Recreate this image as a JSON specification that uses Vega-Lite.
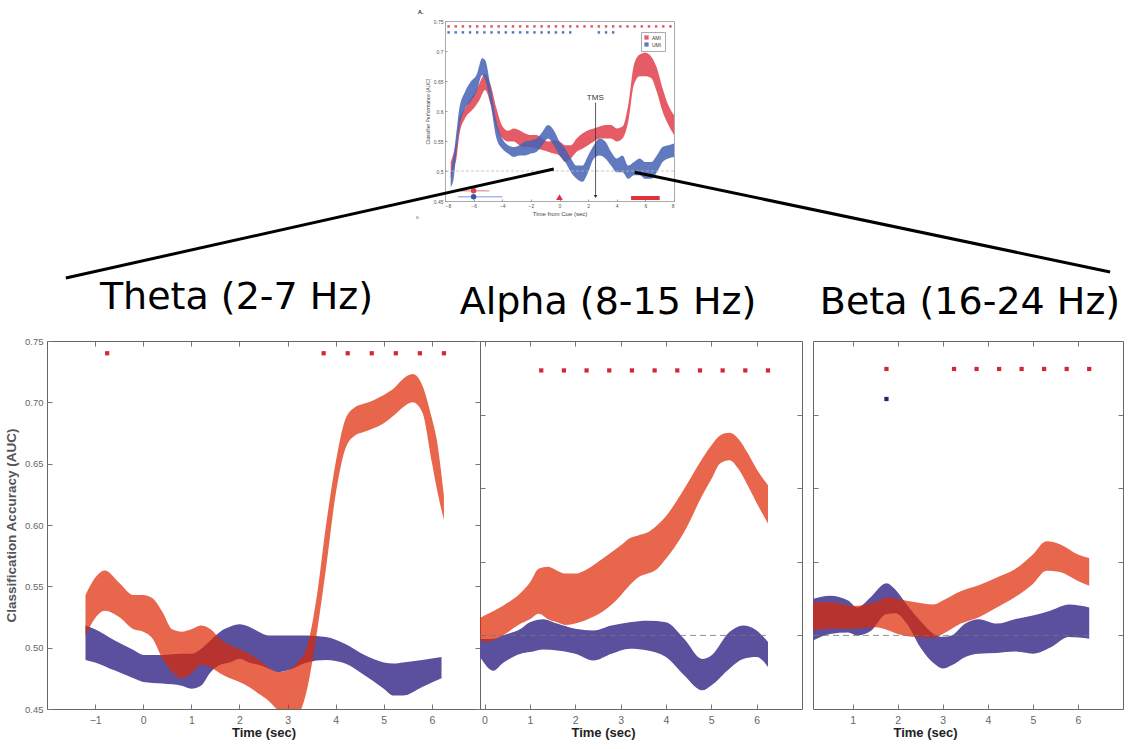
{
"$schema": "https://vega.github.io/schema/vega-lite/v6.json",
"background": "white",
"padding": {"left": 4, "top": 8, "right": 0, "bottom": 0},
"bounds": "flush",
"spacing": 320,
"config": {"view": {"stroke": "#666"}, "font": "Liberation Sans", "axis": {"grid": false, "labelOverlap": false}},
"datasets": {
"inset": [
{"t":-7.6,"lo":0.487,"hi":0.515,"g":"AMI"},{"t":-7.4,"lo":0.505,"hi":0.53,"g":"AMI"},{"t":-7.2,"lo":0.521,"hi":0.549,"g":"AMI"},{"t":-7.0,"lo":0.56,"hi":0.588,"g":"AMI"},{"t":-6.6,"lo":0.588,"hi":0.604,"g":"AMI"},{"t":-6.2,"lo":0.599,"hi":0.621,"g":"AMI"},{"t":-6.0,"lo":0.604,"hi":0.627,"g":"AMI"},{"t":-5.6,"lo":0.618,"hi":0.646,"g":"AMI"},{"t":-5.2,"lo":0.635,"hi":0.662,"g":"AMI"},{"t":-4.8,"lo":0.61,"hi":0.643,"g":"AMI"},{"t":-4.4,"lo":0.571,"hi":0.604,"g":"AMI"},{"t":-4.0,"lo":0.555,"hi":0.575,"g":"AMI"},{"t":-3.6,"lo":0.549,"hi":0.567,"g":"AMI"},{"t":-3.2,"lo":0.549,"hi":0.571,"g":"AMI"},{"t":-2.8,"lo":0.543,"hi":0.568,"g":"AMI"},{"t":-2.4,"lo":0.54,"hi":0.5626,"g":"AMI"},{"t":-2.0,"lo":0.54,"hi":0.56,"g":"AMI"},{"t":-1.6,"lo":0.537,"hi":0.56,"g":"AMI"},{"t":-1.2,"lo":0.535,"hi":0.554,"g":"AMI"},{"t":-0.8,"lo":0.532,"hi":0.549,"g":"AMI"},{"t":-0.4,"lo":0.529,"hi":0.551,"g":"AMI"},{"t":0.0,"lo":0.526,"hi":0.549,"g":"AMI"},{"t":0.4,"lo":0.515,"hi":0.543,"g":"AMI"},{"t":0.8,"lo":0.521,"hi":0.543,"g":"AMI"},{"t":1.2,"lo":0.532,"hi":0.554,"g":"AMI"},{"t":1.6,"lo":0.537,"hi":0.5626,"g":"AMI"},{"t":2.0,"lo":0.543,"hi":0.568,"g":"AMI"},{"t":2.4,"lo":0.549,"hi":0.571,"g":"AMI"},{"t":2.8,"lo":0.554,"hi":0.574,"g":"AMI"},{"t":3.2,"lo":0.554,"hi":0.5765,"g":"AMI"},{"t":3.6,"lo":0.554,"hi":0.5765,"g":"AMI"},{"t":4.0,"lo":0.549,"hi":0.571,"g":"AMI"},{"t":4.4,"lo":0.554,"hi":0.574,"g":"AMI"},{"t":4.8,"lo":0.582,"hi":0.61,"g":"AMI"},{"t":5.2,"lo":0.644,"hi":0.677,"g":"AMI"},{"t":5.6,"lo":0.658,"hi":0.694,"g":"AMI"},{"t":6.0,"lo":0.658,"hi":0.697,"g":"AMI"},{"t":6.4,"lo":0.655,"hi":0.691,"g":"AMI"},{"t":6.8,"lo":0.632,"hi":0.672,"g":"AMI"},{"t":7.2,"lo":0.599,"hi":0.638,"g":"AMI"},{"t":7.6,"lo":0.577,"hi":0.61,"g":"AMI"},{"t":8.0,"lo":0.56,"hi":0.593,"g":"AMI"},
{"t":-7.6,"lo":0.473,"hi":0.498,"g":"UMI"},{"t":-7.4,"lo":0.487,"hi":0.526,"g":"UMI"},{"t":-7.2,"lo":0.532,"hi":0.565,"g":"UMI"},{"t":-7.0,"lo":0.571,"hi":0.604,"g":"UMI"},{"t":-6.6,"lo":0.604,"hi":0.632,"g":"UMI"},{"t":-6.2,"lo":0.616,"hi":0.649,"g":"UMI"},{"t":-5.8,"lo":0.632,"hi":0.66,"g":"UMI"},{"t":-5.4,"lo":0.66,"hi":0.688,"g":"UMI"},{"t":-5.2,"lo":0.652,"hi":0.685,"g":"UMI"},{"t":-4.8,"lo":0.61,"hi":0.638,"g":"UMI"},{"t":-4.4,"lo":0.554,"hi":0.582,"g":"UMI"},{"t":-4.0,"lo":0.537,"hi":0.554,"g":"UMI"},{"t":-3.6,"lo":0.529,"hi":0.543,"g":"UMI"},{"t":-3.2,"lo":0.5235,"hi":0.54,"g":"UMI"},{"t":-2.8,"lo":0.526,"hi":0.543,"g":"UMI"},{"t":-2.4,"lo":0.526,"hi":0.549,"g":"UMI"},{"t":-2.0,"lo":0.529,"hi":0.551,"g":"UMI"},{"t":-1.6,"lo":0.532,"hi":0.554,"g":"UMI"},{"t":-1.2,"lo":0.543,"hi":0.565,"g":"UMI"},{"t":-0.8,"lo":0.554,"hi":0.5765,"g":"UMI"},{"t":-0.4,"lo":0.543,"hi":0.568,"g":"UMI"},{"t":0.0,"lo":0.526,"hi":0.549,"g":"UMI"},{"t":0.4,"lo":0.515,"hi":0.537,"g":"UMI"},{"t":0.8,"lo":0.498,"hi":0.521,"g":"UMI"},{"t":1.2,"lo":0.487,"hi":0.509,"g":"UMI"},{"t":1.6,"lo":0.482,"hi":0.509,"g":"UMI"},{"t":2.0,"lo":0.498,"hi":0.526,"g":"UMI"},{"t":2.4,"lo":0.521,"hi":0.543,"g":"UMI"},{"t":2.8,"lo":0.526,"hi":0.554,"g":"UMI"},{"t":3.2,"lo":0.521,"hi":0.549,"g":"UMI"},{"t":3.6,"lo":0.509,"hi":0.532,"g":"UMI"},{"t":4.0,"lo":0.498,"hi":0.521,"g":"UMI"},{"t":4.4,"lo":0.498,"hi":0.526,"g":"UMI"},{"t":4.8,"lo":0.487,"hi":0.509,"g":"UMI"},{"t":5.2,"lo":0.493,"hi":0.515,"g":"UMI"},{"t":5.6,"lo":0.493,"hi":0.521,"g":"UMI"},{"t":6.0,"lo":0.487,"hi":0.515,"g":"UMI"},{"t":6.4,"lo":0.487,"hi":0.515,"g":"UMI"},{"t":6.8,"lo":0.498,"hi":0.526,"g":"UMI"},{"t":7.2,"lo":0.515,"hi":0.54,"g":"UMI"},{"t":7.6,"lo":0.521,"hi":0.543,"g":"UMI"},{"t":8.0,"lo":0.5235,"hi":0.546,"g":"UMI"}
],
"insetDots": [
{"t":-7.75,"y":0.741,"g":"AMI"},{"t":-7.25,"y":0.741,"g":"AMI"},{"t":-6.75,"y":0.741,"g":"AMI"},{"t":-6.25,"y":0.741,"g":"AMI"},{"t":-5.75,"y":0.741,"g":"AMI"},{"t":-5.25,"y":0.741,"g":"AMI"},{"t":-4.75,"y":0.741,"g":"AMI"},{"t":-4.25,"y":0.741,"g":"AMI"},{"t":-3.75,"y":0.741,"g":"AMI"},{"t":-3.25,"y":0.741,"g":"AMI"},{"t":-2.75,"y":0.741,"g":"AMI"},{"t":-2.25,"y":0.741,"g":"AMI"},{"t":-1.75,"y":0.741,"g":"AMI"},{"t":-1.25,"y":0.741,"g":"AMI"},{"t":-0.75,"y":0.741,"g":"AMI"},{"t":-0.25,"y":0.741,"g":"AMI"},{"t":0.25,"y":0.741,"g":"AMI"},{"t":0.75,"y":0.741,"g":"AMI"},{"t":1.25,"y":0.741,"g":"AMI"},{"t":1.75,"y":0.741,"g":"AMI"},{"t":2.25,"y":0.741,"g":"AMI"},{"t":2.75,"y":0.741,"g":"AMI"},{"t":3.25,"y":0.741,"g":"AMI"},{"t":3.75,"y":0.741,"g":"AMI"},{"t":4.25,"y":0.741,"g":"AMI"},{"t":4.75,"y":0.741,"g":"AMI"},{"t":5.25,"y":0.741,"g":"AMI"},{"t":5.75,"y":0.741,"g":"AMI"},{"t":6.25,"y":0.741,"g":"AMI"},{"t":6.75,"y":0.741,"g":"AMI"},{"t":7.25,"y":0.741,"g":"AMI"},{"t":7.75,"y":0.741,"g":"AMI"},
{"t":-7.75,"y":0.731,"g":"UMI"},{"t":-7.25,"y":0.731,"g":"UMI"},{"t":-6.75,"y":0.731,"g":"UMI"},{"t":-6.25,"y":0.731,"g":"UMI"},{"t":-5.75,"y":0.731,"g":"UMI"},{"t":-5.25,"y":0.731,"g":"UMI"},{"t":-4.75,"y":0.731,"g":"UMI"},{"t":-4.25,"y":0.731,"g":"UMI"},{"t":-3.75,"y":0.731,"g":"UMI"},{"t":-3.25,"y":0.731,"g":"UMI"},{"t":-2.75,"y":0.731,"g":"UMI"},{"t":-2.25,"y":0.731,"g":"UMI"},{"t":-1.75,"y":0.731,"g":"UMI"},{"t":-1.25,"y":0.731,"g":"UMI"},{"t":-0.75,"y":0.731,"g":"UMI"},{"t":-0.25,"y":0.731,"g":"UMI"},{"t":0.25,"y":0.731,"g":"UMI"},{"t":0.75,"y":0.731,"g":"UMI"},{"t":2.75,"y":0.731,"g":"UMI"},{"t":3.25,"y":0.731,"g":"UMI"},{"t":3.75,"y":0.731,"g":"UMI"}
],
"theta": [
{"t":-1.2,"lo":0.51,"hi":0.543,"g":"AMI"},{"t":-1.0,"lo":0.524,"hi":0.557,"g":"AMI"},{"t":-0.8,"lo":0.53,"hi":0.563,"g":"AMI"},{"t":-0.5,"lo":0.525,"hi":0.553,"g":"AMI"},{"t":-0.2,"lo":0.515,"hi":0.543,"g":"AMI"},{"t":0.0,"lo":0.513,"hi":0.543,"g":"AMI"},{"t":0.2,"lo":0.507,"hi":0.54,"g":"AMI"},{"t":0.4,"lo":0.491,"hi":0.529,"g":"AMI"},{"t":0.6,"lo":0.48,"hi":0.515,"g":"AMI"},{"t":0.8,"lo":0.475,"hi":0.513,"g":"AMI"},{"t":1.0,"lo":0.479,"hi":0.515,"g":"AMI"},{"t":1.2,"lo":0.486,"hi":0.518,"g":"AMI"},{"t":1.4,"lo":0.484,"hi":0.515,"g":"AMI"},{"t":1.6,"lo":0.479,"hi":0.507,"g":"AMI"},{"t":1.8,"lo":0.475,"hi":0.502,"g":"AMI"},{"t":2.0,"lo":0.472,"hi":0.499,"g":"AMI"},{"t":2.2,"lo":0.468,"hi":0.495,"g":"AMI"},{"t":2.4,"lo":0.4625,"hi":0.49,"g":"AMI"},{"t":2.6,"lo":0.457,"hi":0.484,"g":"AMI"},{"t":2.8,"lo":0.449,"hi":0.48,"g":"AMI"},{"t":3.0,"lo":0.443,"hi":0.4815,"g":"AMI"},{"t":3.2,"lo":0.445,"hi":0.488,"g":"AMI"},{"t":3.4,"lo":0.465,"hi":0.5,"g":"AMI"},{"t":3.6,"lo":0.51,"hi":0.54,"g":"AMI"},{"t":3.8,"lo":0.565,"hi":0.6,"g":"AMI"},{"t":4.0,"lo":0.625,"hi":0.651,"g":"AMI"},{"t":4.2,"lo":0.662,"hi":0.686,"g":"AMI"},{"t":4.4,"lo":0.673,"hi":0.696,"g":"AMI"},{"t":4.6,"lo":0.676,"hi":0.699,"g":"AMI"},{"t":4.8,"lo":0.679,"hi":0.702,"g":"AMI"},{"t":5.0,"lo":0.683,"hi":0.706,"g":"AMI"},{"t":5.2,"lo":0.689,"hi":0.711,"g":"AMI"},{"t":5.4,"lo":0.696,"hi":0.719,"g":"AMI"},{"t":5.6,"lo":0.7,"hi":0.723,"g":"AMI"},{"t":5.8,"lo":0.692,"hi":0.714,"g":"AMI"},{"t":6.0,"lo":0.651,"hi":0.687,"g":"AMI"},{"t":6.1,"lo":0.63,"hi":0.67,"g":"AMI"},{"t":6.25,"lo":0.604,"hi":0.624,"g":"AMI"},
{"t":-1.2,"lo":0.49,"hi":0.518,"g":"UMI"},{"t":-1.0,"lo":0.488,"hi":0.515,"g":"UMI"},{"t":-0.6,"lo":0.4815,"hi":0.506,"g":"UMI"},{"t":-0.2,"lo":0.475,"hi":0.498,"g":"UMI"},{"t":0.0,"lo":0.472,"hi":0.494,"g":"UMI"},{"t":0.4,"lo":0.4707,"hi":0.494,"g":"UMI"},{"t":0.8,"lo":0.469,"hi":0.495,"g":"UMI"},{"t":1.0,"lo":0.4666,"hi":0.495,"g":"UMI"},{"t":1.2,"lo":0.469,"hi":0.499,"g":"UMI"},{"t":1.4,"lo":0.48,"hi":0.506,"g":"UMI"},{"t":1.6,"lo":0.486,"hi":0.513,"g":"UMI"},{"t":1.8,"lo":0.488,"hi":0.517,"g":"UMI"},{"t":2.0,"lo":0.491,"hi":0.519,"g":"UMI"},{"t":2.2,"lo":0.488,"hi":0.517,"g":"UMI"},{"t":2.4,"lo":0.486,"hi":0.513,"g":"UMI"},{"t":2.6,"lo":0.483,"hi":0.51,"g":"UMI"},{"t":2.8,"lo":0.48,"hi":0.51,"g":"UMI"},{"t":3.0,"lo":0.4815,"hi":0.51,"g":"UMI"},{"t":3.4,"lo":0.488,"hi":0.51,"g":"UMI"},{"t":3.8,"lo":0.49,"hi":0.5087,"g":"UMI"},{"t":4.2,"lo":0.487,"hi":0.503,"g":"UMI"},{"t":4.6,"lo":0.4775,"hi":0.494,"g":"UMI"},{"t":5.0,"lo":0.4666,"hi":0.488,"g":"UMI"},{"t":5.2,"lo":0.461,"hi":0.487,"g":"UMI"},{"t":5.4,"lo":0.461,"hi":0.488,"g":"UMI"},{"t":5.8,"lo":0.468,"hi":0.49,"g":"UMI"},{"t":6.2,"lo":0.475,"hi":0.4924,"g":"UMI"}
],
"alpha": [
{"t":-0.1,"lo":0.497,"hi":0.512,"g":"AMI"},{"t":0.0,"lo":0.4955,"hi":0.5136,"g":"AMI"},{"t":0.4,"lo":0.5,"hi":0.52,"g":"AMI"},{"t":0.8,"lo":0.508,"hi":0.529,"g":"AMI"},{"t":1.0,"lo":0.511,"hi":0.536,"g":"AMI"},{"t":1.2,"lo":0.5147,"hi":0.5455,"g":"AMI"},{"t":1.4,"lo":0.511,"hi":0.5466,"g":"AMI"},{"t":1.6,"lo":0.509,"hi":0.544,"g":"AMI"},{"t":1.8,"lo":0.507,"hi":0.542,"g":"AMI"},{"t":2.0,"lo":0.508,"hi":0.542,"g":"AMI"},{"t":2.2,"lo":0.51,"hi":0.544,"g":"AMI"},{"t":2.6,"lo":0.516,"hi":0.552,"g":"AMI"},{"t":3.0,"lo":0.527,"hi":0.561,"g":"AMI"},{"t":3.2,"lo":0.534,"hi":0.566,"g":"AMI"},{"t":3.4,"lo":0.5396,"hi":0.568,"g":"AMI"},{"t":3.6,"lo":0.542,"hi":0.57,"g":"AMI"},{"t":3.8,"lo":0.545,"hi":0.5747,"g":"AMI"},{"t":4.0,"lo":0.552,"hi":0.581,"g":"AMI"},{"t":4.4,"lo":0.57,"hi":0.5995,"g":"AMI"},{"t":4.8,"lo":0.595,"hi":0.62,"g":"AMI"},{"t":5.0,"lo":0.606,"hi":0.629,"g":"AMI"},{"t":5.2,"lo":0.617,"hi":0.636,"g":"AMI"},{"t":5.4,"lo":0.619,"hi":0.6376,"g":"AMI"},{"t":5.6,"lo":0.613,"hi":0.6335,"g":"AMI"},{"t":5.8,"lo":0.602,"hi":0.624,"g":"AMI"},{"t":6.0,"lo":0.59,"hi":0.613,"g":"AMI"},{"t":6.25,"lo":0.576,"hi":0.602,"g":"AMI"},
{"t":-0.1,"lo":0.4853,"hi":0.4975,"g":"UMI"},{"t":0.2,"lo":0.476,"hi":0.4977,"g":"UMI"},{"t":0.4,"lo":0.481,"hi":0.5,"g":"UMI"},{"t":0.8,"lo":0.4876,"hi":0.5045,"g":"UMI"},{"t":1.0,"lo":0.4887,"hi":0.509,"g":"UMI"},{"t":1.3,"lo":0.4905,"hi":0.511,"g":"UMI"},{"t":1.6,"lo":0.4898,"hi":0.508,"g":"UMI"},{"t":2.0,"lo":0.4876,"hi":0.5045,"g":"UMI"},{"t":2.4,"lo":0.483,"hi":0.5034,"g":"UMI"},{"t":2.8,"lo":0.4876,"hi":0.5068,"g":"UMI"},{"t":3.2,"lo":0.491,"hi":0.509,"g":"UMI"},{"t":3.6,"lo":0.4898,"hi":0.51,"g":"UMI"},{"t":4.0,"lo":0.4853,"hi":0.509,"g":"UMI"},{"t":4.4,"lo":0.473,"hi":0.4977,"g":"UMI"},{"t":4.8,"lo":0.4627,"hi":0.484,"g":"UMI"},{"t":5.0,"lo":0.466,"hi":0.4864,"g":"UMI"},{"t":5.4,"lo":0.4774,"hi":0.5023,"g":"UMI"},{"t":5.7,"lo":0.484,"hi":0.5068,"g":"UMI"},{"t":6.0,"lo":0.4853,"hi":0.5034,"g":"UMI"},{"t":6.25,"lo":0.4785,"hi":0.4955,"g":"UMI"}
],
"beta": [
{"t":0.12,"lo":0.5034,"hi":0.5225,"g":"AMI"},{"t":0.5,"lo":0.5045,"hi":0.5225,"g":"AMI"},{"t":1.0,"lo":0.5045,"hi":0.52,"g":"AMI"},{"t":1.5,"lo":0.5056,"hi":0.5225,"g":"AMI"},{"t":1.8,"lo":0.5034,"hi":0.526,"g":"AMI"},{"t":2.0,"lo":0.501,"hi":0.5248,"g":"AMI"},{"t":2.4,"lo":0.4989,"hi":0.5225,"g":"AMI"},{"t":2.8,"lo":0.4984,"hi":0.521,"g":"AMI"},{"t":3.0,"lo":0.501,"hi":0.5237,"g":"AMI"},{"t":3.4,"lo":0.508,"hi":0.53,"g":"AMI"},{"t":3.8,"lo":0.5124,"hi":0.534,"g":"AMI"},{"t":4.2,"lo":0.519,"hi":0.5394,"g":"AMI"},{"t":4.6,"lo":0.526,"hi":0.545,"g":"AMI"},{"t":5.0,"lo":0.535,"hi":0.555,"g":"AMI"},{"t":5.3,"lo":0.544,"hi":0.564,"g":"AMI"},{"t":5.6,"lo":0.543,"hi":0.562,"g":"AMI"},{"t":6.0,"lo":0.537,"hi":0.555,"g":"AMI"},{"t":6.25,"lo":0.5338,"hi":0.5525,"g":"AMI"},
{"t":0.12,"lo":0.4966,"hi":0.5248,"g":"UMI"},{"t":0.5,"lo":0.501,"hi":0.527,"g":"UMI"},{"t":0.9,"lo":0.502,"hi":0.5237,"g":"UMI"},{"t":1.1,"lo":0.5,"hi":0.519,"g":"UMI"},{"t":1.4,"lo":0.503,"hi":0.526,"g":"UMI"},{"t":1.75,"lo":0.5146,"hi":0.5354,"g":"UMI"},{"t":1.95,"lo":0.515,"hi":0.531,"g":"UMI"},{"t":2.2,"lo":0.508,"hi":0.521,"g":"UMI"},{"t":2.5,"lo":0.492,"hi":0.51,"g":"UMI"},{"t":2.8,"lo":0.481,"hi":0.501,"g":"UMI"},{"t":3.0,"lo":0.4775,"hi":0.499,"g":"UMI"},{"t":3.2,"lo":0.4797,"hi":0.5,"g":"UMI"},{"t":3.5,"lo":0.4854,"hi":0.508,"g":"UMI"},{"t":3.8,"lo":0.4876,"hi":0.511,"g":"UMI"},{"t":4.2,"lo":0.488,"hi":0.508,"g":"UMI"},{"t":4.6,"lo":0.489,"hi":0.511,"g":"UMI"},{"t":5.0,"lo":0.4876,"hi":0.5135,"g":"UMI"},{"t":5.4,"lo":0.492,"hi":0.517,"g":"UMI"},{"t":5.8,"lo":0.4989,"hi":0.521,"g":"UMI"},{"t":6.25,"lo":0.4977,"hi":0.519,"g":"UMI"}
],
"thetaSig": [{"t":-0.75,"y":0.74},{"t":3.75,"y":0.74},{"t":4.25,"y":0.74},{"t":4.75,"y":0.74},{"t":5.25,"y":0.74},{"t":5.75,"y":0.74},{"t":6.25,"y":0.74}],
"alphaSig": [{"t":1.25,"y":0.68},{"t":1.75,"y":0.68},{"t":2.25,"y":0.68},{"t":2.75,"y":0.68},{"t":3.25,"y":0.68},{"t":3.75,"y":0.68},{"t":4.25,"y":0.68},{"t":4.75,"y":0.68},{"t":5.25,"y":0.68},{"t":5.75,"y":0.68},{"t":6.25,"y":0.68}],
"betaSig": [{"t":1.75,"y":0.681},{"t":3.25,"y":0.681},{"t":3.75,"y":0.681},{"t":4.25,"y":0.681},{"t":4.75,"y":0.681},{"t":5.25,"y":0.681},{"t":5.75,"y":0.681},{"t":6.25,"y":0.681}],
"betaSigU": [{"t":1.75,"y":0.6606}]
},
"vconcat": [
{"hconcat": [
 {"width": 398, "height": 180, "view": {"stroke": null}, "data": {"values": [{"a": 1}]}, "mark": {"type": "point", "opacity": 0}, "encoding": {}},
 {"width": 229, "height": 180, "view": {"stroke": "#aaa"},
  "resolve": {"axis": {"x": "independent", "y": "independent"}},
  "layer": [
   {"data": {"name": "inset"}, "mark": {"type": "area", "interpolate": "monotone", "opacity": 0.85},
    "encoding": {
     "x": {"field": "t", "type": "quantitative", "scale": {"domain": [-8, 8], "nice": false, "zero": false},
       "axis": {"values": [-8,-6,-4,-2,0,2,4,6,8], "labelOverlap": false, "tickSize": -2, "tickColor": "#999", "labelPadding": 4, "labelFontSize": 5, "labelColor": "#555", "domain": false, "title": "Time from Cue (sec)", "titleFontSize": 6, "titleFontWeight": "normal", "titleColor": "#444", "titlePadding": 2}},
     "y": {"field": "lo", "type": "quantitative", "scale": {"domain": [0.45, 0.75], "nice": false, "zero": false},
       "axis": {"values": [0.45,0.5,0.55,0.6,0.65,0.7,0.75], "labelOverlap": false, "format": "~g", "tickSize": -2, "tickColor": "#999", "labelPadding": 4, "labelFontSize": 5, "labelColor": "#555", "domain": false, "title": "Classifier Performance (AUC)", "titleFontSize": 5, "titleFontWeight": "normal", "titleColor": "#444", "titlePadding": 3}},
     "y2": {"field": "hi"},
     "color": {"field": "g", "type": "nominal", "scale": {"domain": ["AMI", "UMI"], "range": ["#E0404C", "#4462B4"]},
       "legend": {"orient": "none", "legendX": 594, "legendY": 11, "title": null, "labelFontSize": 5, "labelColor": "#333", "symbolType": "square", "symbolSize": 18, "symbolStrokeWidth": 0, "padding": 3, "strokeColor": "#aaa", "fillColor": "white", "rowPadding": 1, "labelOffset": 3}}
    }},
   {"data": {"values": [{"y": 0.5}]}, "mark": {"type": "rule", "color": "#bbb", "strokeDash": [3, 2], "strokeWidth": 0.8},
    "encoding": {"y": {"field": "y", "type": "quantitative", "scale": {"domain": [0.45, 0.75], "nice": false, "zero": false}, "axis": null}}},
   {"data": {"name": "insetDots"}, "mark": {"type": "square", "size": 6, "opacity": 0.9},
    "encoding": {
     "x": {"field": "t", "type": "quantitative", "scale": {"domain": [-8, 8], "nice": false, "zero": false}, "axis": null},
     "y": {"field": "y", "type": "quantitative", "scale": {"domain": [0.45, 0.75], "nice": false, "zero": false}, "axis": null},
     "color": {"field": "g", "type": "nominal", "scale": {"domain": ["AMI", "UMI"], "range": ["#E0404C", "#4462B4"]}}
    }},
   {"data": {"values": [{"t0": -6.97, "t1": -4.9, "y": 0.467}]}, "mark": {"type": "rule", "color": "#F2A0A8", "strokeWidth": 1.5},
    "encoding": {"x": {"field": "t0", "type": "quantitative", "scale": {"domain": [-8, 8], "nice": false, "zero": false}, "axis": null}, "x2": {"field": "t1"}, "y": {"field": "y", "type": "quantitative", "scale": {"domain": [0.45, 0.75], "nice": false, "zero": false}, "axis": null}}},
   {"data": {"values": [{"t0": -7.1, "t1": -4.0, "y": 0.457}]}, "mark": {"type": "rule", "color": "#A8B8E8", "strokeWidth": 1.5},
    "encoding": {"x": {"field": "t0", "type": "quantitative", "scale": {"domain": [-8, 8], "nice": false, "zero": false}, "axis": null}, "x2": {"field": "t1"}, "y": {"field": "y", "type": "quantitative", "scale": {"domain": [0.45, 0.75], "nice": false, "zero": false}, "axis": null}}},
   {"data": {"values": [{"t": -6, "y": 0.467}]}, "mark": {"type": "circle", "size": 30, "color": "#E0404C", "opacity": 1},
    "encoding": {"x": {"field": "t", "type": "quantitative", "scale": {"domain": [-8, 8], "nice": false, "zero": false}, "axis": null}, "y": {"field": "y", "type": "quantitative", "scale": {"domain": [0.45, 0.75], "nice": false, "zero": false}, "axis": null}}},
   {"data": {"values": [{"t": -6, "y": 0.457}]}, "mark": {"type": "circle", "size": 30, "color": "#3A55A8", "opacity": 1},
    "encoding": {"x": {"field": "t", "type": "quantitative", "scale": {"domain": [-8, 8], "nice": false, "zero": false}, "axis": null}, "y": {"field": "y", "type": "quantitative", "scale": {"domain": [0.45, 0.75], "nice": false, "zero": false}, "axis": null}}},
   {"data": {"values": [{"t": 0, "y": 0.4565}]}, "mark": {"type": "point", "shape": "triangle-up", "filled": true, "size": 45, "color": "#E0303C", "opacity": 1},
    "encoding": {"x": {"field": "t", "type": "quantitative", "scale": {"domain": [-8, 8], "nice": false, "zero": false}, "axis": null}, "y": {"field": "y", "type": "quantitative", "scale": {"domain": [0.45, 0.75], "nice": false, "zero": false}, "axis": null}}},
   {"data": {"values": [{"t0": 5, "t1": 7, "y": 0.455}]}, "mark": {"type": "rule", "color": "#E0303C", "strokeWidth": 4},
    "encoding": {"x": {"field": "t0", "type": "quantitative", "scale": {"domain": [-8, 8], "nice": false, "zero": false}, "axis": null}, "x2": {"field": "t1"}, "y": {"field": "y", "type": "quantitative", "scale": {"domain": [0.45, 0.75], "nice": false, "zero": false}, "axis": null}}},
   {"data": {"values": [{"t": 2.52, "y0": 0.614, "y1": 0.459}]}, "mark": {"type": "rule", "color": "#333", "strokeWidth": 0.8},
    "encoding": {"x": {"field": "t", "type": "quantitative", "scale": {"domain": [-8, 8], "nice": false, "zero": false}, "axis": null}, "y": {"field": "y0", "type": "quantitative", "scale": {"domain": [0.45, 0.75], "nice": false, "zero": false}, "axis": null}, "y2": {"field": "y1"}}},
   {"data": {"values": [{"t": 2.52, "y": 0.4575}]}, "mark": {"type": "point", "shape": "triangle-down", "filled": true, "size": 14, "color": "#333", "opacity": 1},
    "encoding": {"x": {"field": "t", "type": "quantitative", "scale": {"domain": [-8, 8], "nice": false, "zero": false}, "axis": null}, "y": {"field": "y", "type": "quantitative", "scale": {"domain": [0.45, 0.75], "nice": false, "zero": false}, "axis": null}}},
   {"data": {"values": [{"t": 2.5, "y": 0.622, "s": "TMS"}]}, "mark": {"type": "text", "fontSize": 8, "color": "#333", "baseline": "middle"},
    "encoding": {"x": {"field": "t", "type": "quantitative", "scale": {"domain": [-8, 8], "nice": false, "zero": false}, "axis": null}, "y": {"field": "y", "type": "quantitative", "scale": {"domain": [0.45, 0.75], "nice": false, "zero": false}, "axis": null}, "text": {"field": "s"}}},
   {"data": {"values": [{"t": -9.7, "y": 0.7645, "s": "A."}]}, "mark": {"type": "text", "fontSize": 6, "fontWeight": "bold", "color": "#333", "clip": false},
    "encoding": {"x": {"field": "t", "type": "quantitative", "scale": {"domain": [-8, 8], "nice": false, "zero": false}, "axis": null}, "y": {"field": "y", "type": "quantitative", "scale": {"domain": [0.45, 0.75], "nice": false, "zero": false}, "axis": null}, "text": {"field": "s"}}},
   {"data": {"values": [{"t": -9.9, "y": 0.4217, "s": "B."}]}, "mark": {"type": "text", "fontSize": 4, "color": "#777", "clip": false},
    "encoding": {"x": {"field": "t", "type": "quantitative", "scale": {"domain": [-8, 8], "nice": false, "zero": false}, "axis": null}, "y": {"field": "y", "type": "quantitative", "scale": {"domain": [0.45, 0.75], "nice": false, "zero": false}, "axis": null}, "text": {"field": "s"}}},
   {"data": {"values": [{"t0": -0.4, "y0": 0.5033, "t1": -34.49, "y1": 0.3217}, {"t0": 5.26, "y0": 0.498, "t1": 38.47, "y1": 0.3317}]},
    "mark": {"type": "rule", "color": "black", "strokeWidth": 3, "clip": false},
    "encoding": {"x": {"field": "t0", "type": "quantitative", "scale": {"domain": [-8, 8], "nice": false, "zero": false}, "axis": null}, "y": {"field": "y0", "type": "quantitative", "scale": {"domain": [0.45, 0.75], "nice": false, "zero": false}, "axis": null}, "x2": {"field": "t1"}, "y2": {"field": "y1"}}}
  ]}
 ], "spacing": 0, "bounds": "flush"},
{"hconcat": [
 {"width": 433, "height": 368,
  "title": {"text": "Theta (2-7 Hz)", "fontSize": 38, "font": "DejaVu Sans", "fontWeight": "normal", "color": "#000", "anchor": "middle", "dx": -27, "offset": -11, "baseline": "alphabetic"},
  "resolve": {"axis": {"x": "independent", "y": "independent"}},
  "layer": [
   {"data": {"name": "theta"}, "transform": [{"filter": "datum.g === 'UMI'"}],
    "mark": {"type": "area", "interpolate": "monotone", "color": "#5B509E", "opacity": 1, "clip": true},
    "encoding": {
     "x": {"field": "t", "type": "quantitative", "scale": {"domain": [-2, 7], "nice": false, "zero": false},
      "axis": {"orient": "bottom", "values": [-1,0,1,2,3,4,5,6], "tickSize": -5, "tickColor": "#777", "labelPadding": 11, "labelFontSize": 10.5, "labelColor": "#666", "domain": false, "title": "Time (sec)", "titleFontSize": 13, "titleFontWeight": "bold", "titleColor": "#222", "titlePadding": 1}},
     "y": {"field": "lo", "type": "quantitative", "scale": {"domain": [0.45, 0.75], "nice": false, "zero": false},
      "axis": {"orient": "left", "values": [0.45,0.5,0.55,0.6,0.65,0.7,0.75], "format": ".2f", "tickSize": -5, "tickColor": "#777", "labelPadding": 9, "labelFontSize": 9.5, "labelColor": "#666", "domain": false, "title": "Classification Accuracy (AUC)", "titleFontSize": 13.5, "titleFontWeight": "bold", "titleColor": "#555", "titlePadding": 6}},
     "y2": {"field": "hi"}}},
   {"data": {"name": "theta"}, "transform": [{"filter": "datum.g === 'AMI'"}],
    "mark": {"type": "area", "interpolate": "monotone", "color": "#DE2700", "opacity": 0.7, "clip": true},
    "encoding": {
     "x": {"field": "t", "type": "quantitative", "scale": {"domain": [-2, 7], "nice": false, "zero": false},
      "axis": {"orient": "top", "values": [-1,0,1,2,3,4,5,6], "tickSize": -5, "tickColor": "#777", "labels": false, "domain": false, "title": null}},
     "y": {"field": "lo", "type": "quantitative", "scale": {"domain": [0.45, 0.75], "nice": false, "zero": false},
      "axis": {"orient": "right", "values": [0.45,0.5,0.55,0.6,0.65,0.7,0.75], "tickSize": -5, "tickColor": "#777", "labels": false, "domain": false, "title": null}},
     "y2": {"field": "hi"}}},
   {"data": {"name": "thetaSig"}, "mark": {"type": "square", "size": 18, "color": "#D02838", "opacity": 1},
    "encoding": {
     "x": {"field": "t", "type": "quantitative", "scale": {"domain": [-2, 7], "nice": false, "zero": false}, "axis": null},
     "y": {"field": "y", "type": "quantitative", "scale": {"domain": [0.45, 0.75], "nice": false, "zero": false}, "axis": null}}}
  ]},
 {"hconcat": [
  {"width": 322, "height": 368,
   "title": {"text": "Alpha (8-15 Hz)", "fontSize": 38, "font": "DejaVu Sans", "fontWeight": "normal", "color": "#000", "anchor": "middle", "dx": -33, "offset": -11, "baseline": "alphabetic"},
   "resolve": {"axis": {"x": "independent", "y": "independent"}},
   "layer": [
    {"data": {"name": "alpha"}, "transform": [{"filter": "datum.g === 'UMI'"}],
     "mark": {"type": "area", "interpolate": "monotone", "color": "#5B509E", "opacity": 1, "clip": true},
     "encoding": {
      "x": {"field": "t", "type": "quantitative", "scale": {"domain": [-0.1, 7], "nice": false, "zero": false},
       "axis": {"orient": "bottom", "values": [0,1,2,3,4,5,6], "tickSize": -5, "tickColor": "#777", "labelPadding": 11, "labelFontSize": 10.5, "labelColor": "#666", "domain": false, "title": "Time (sec)", "titleFontSize": 13, "titleFontWeight": "bold", "titleColor": "#222", "titlePadding": 1, "titleX": 123}},
      "y": {"field": "lo", "type": "quantitative", "scale": {"domain": [0.45, 0.7], "nice": false, "zero": false},
       "axis": {"orient": "left", "values": [0.5,0.55,0.6,0.65], "tickSize": -5, "tickColor": "#777", "labels": false, "domain": false, "title": null}},
      "y2": {"field": "hi"}}},
    {"data": {"name": "alpha"}, "transform": [{"filter": "datum.g === 'AMI'"}],
     "mark": {"type": "area", "interpolate": "monotone", "color": "#DE2700", "opacity": 0.7, "clip": true},
     "encoding": {
      "x": {"field": "t", "type": "quantitative", "scale": {"domain": [-0.1, 7], "nice": false, "zero": false},
       "axis": {"orient": "top", "values": [0,1,2,3,4,5,6], "tickSize": -5, "tickColor": "#777", "labels": false, "domain": false, "title": null}},
      "y": {"field": "lo", "type": "quantitative", "scale": {"domain": [0.45, 0.7], "nice": false, "zero": false},
       "axis": {"orient": "right", "values": [0.5,0.55,0.6,0.65], "tickSize": -5, "tickColor": "#777", "labels": false, "domain": false, "title": null}},
      "y2": {"field": "hi"}}},
    {"data": {"values": [{"t0": -0.1, "t1": 6.25, "y": 0.5}]}, "mark": {"type": "rule", "color": "#777", "strokeDash": [6, 4], "strokeWidth": 1, "opacity": 0.8},
     "encoding": {"x": {"field": "t0", "type": "quantitative", "scale": {"domain": [-0.1, 7], "nice": false, "zero": false}, "axis": null}, "x2": {"field": "t1"},
      "y": {"field": "y", "type": "quantitative", "scale": {"domain": [0.45, 0.7], "nice": false, "zero": false}, "axis": null}}},
    {"data": {"name": "alphaSig"}, "mark": {"type": "square", "size": 18, "color": "#D02838", "opacity": 1},
     "encoding": {
      "x": {"field": "t", "type": "quantitative", "scale": {"domain": [-0.1, 7], "nice": false, "zero": false}, "axis": null},
      "y": {"field": "y", "type": "quantitative", "scale": {"domain": [0.45, 0.7], "nice": false, "zero": false}, "axis": null}}}
   ]},
  {"width": 310, "height": 368,
   "title": {"text": "Beta (16-24 Hz)", "fontSize": 38, "font": "DejaVu Sans", "fontWeight": "normal", "color": "#000", "anchor": "middle", "dx": 2, "offset": -11, "baseline": "alphabetic"},
   "resolve": {"axis": {"x": "independent", "y": "independent"}},
   "layer": [
    {"data": {"name": "beta"}, "transform": [{"filter": "datum.g === 'UMI'"}],
     "mark": {"type": "area", "interpolate": "monotone", "color": "#5B509E", "opacity": 1, "clip": true},
     "encoding": {
      "x": {"field": "t", "type": "quantitative", "scale": {"domain": [0.12, 7], "nice": false, "zero": false},
       "axis": {"orient": "bottom", "values": [1,2,3,4,5,6], "tickSize": -5, "tickColor": "#777", "labelPadding": 11, "labelFontSize": 10.5, "labelColor": "#666", "domain": false, "title": "Time (sec)", "titleFontSize": 13, "titleFontWeight": "bold", "titleColor": "#222", "titlePadding": 1, "titleX": 112}},
      "y": {"field": "lo", "type": "quantitative", "scale": {"domain": [0.45, 0.7], "nice": false, "zero": false},
       "axis": {"orient": "left", "values": [0.5,0.55,0.6,0.65], "tickSize": -5, "tickColor": "#777", "labels": false, "domain": false, "title": null}},
      "y2": {"field": "hi"}}},
    {"data": {"name": "beta"}, "transform": [{"filter": "datum.g === 'AMI'"}],
     "mark": {"type": "area", "interpolate": "monotone", "color": "#DE2700", "opacity": 0.7, "clip": true},
     "encoding": {
      "x": {"field": "t", "type": "quantitative", "scale": {"domain": [0.12, 7], "nice": false, "zero": false},
       "axis": {"orient": "top", "values": [1,2,3,4,5,6], "tickSize": -5, "tickColor": "#777", "labels": false, "domain": false, "title": null}},
      "y": {"field": "lo", "type": "quantitative", "scale": {"domain": [0.45, 0.7], "nice": false, "zero": false},
       "axis": {"orient": "right", "values": [0.5,0.55,0.6,0.65], "tickSize": -5, "tickColor": "#777", "labels": false, "domain": false, "title": null}},
      "y2": {"field": "hi"}}},
    {"data": {"values": [{"t0": 0.12, "t1": 6.25, "y": 0.5}]}, "mark": {"type": "rule", "color": "#777", "strokeDash": [6, 4], "strokeWidth": 1, "opacity": 0.8},
     "encoding": {"x": {"field": "t0", "type": "quantitative", "scale": {"domain": [0.12, 7], "nice": false, "zero": false}, "axis": null}, "x2": {"field": "t1"},
      "y": {"field": "y", "type": "quantitative", "scale": {"domain": [0.45, 0.7], "nice": false, "zero": false}, "axis": null}}},
    {"data": {"name": "betaSig"}, "mark": {"type": "square", "size": 18, "color": "#D02838", "opacity": 1},
     "encoding": {
      "x": {"field": "t", "type": "quantitative", "scale": {"domain": [0.12, 7], "nice": false, "zero": false}, "axis": null},
      "y": {"field": "y", "type": "quantitative", "scale": {"domain": [0.45, 0.7], "nice": false, "zero": false}, "axis": null}}},
    {"data": {"name": "betaSigU"}, "mark": {"type": "square", "size": 18, "color": "#23237A", "opacity": 1},
     "encoding": {
      "x": {"field": "t", "type": "quantitative", "scale": {"domain": [0.12, 7], "nice": false, "zero": false}, "axis": null},
      "y": {"field": "y", "type": "quantitative", "scale": {"domain": [0.45, 0.7], "nice": false, "zero": false}, "axis": null}}}
   ]}
 ], "spacing": 11, "bounds": "flush"}
], "spacing": 0, "bounds": "flush"}
]
}
